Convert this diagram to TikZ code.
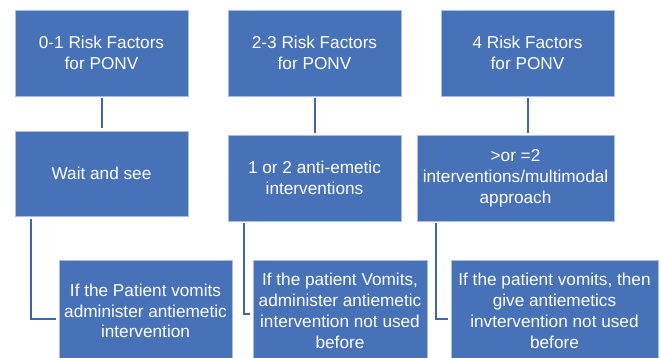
\documentclass[tikz,border=0pt]{standalone}
\usepackage{fontspec}
\setmainfont{Liberation Sans}
\definecolor{boxfill}{RGB}{71,114,183}
\definecolor{boxedge}{RGB}{170,190,225}
\definecolor{linkc}{RGB}{62,102,172}
\begin{document}
\begin{tikzpicture}[x=1pt,y=-1pt,
  box/.style={rectangle, fill=boxfill, draw=boxedge, line width=0.5pt,
    text=white, align=center, inner sep=0pt,
    font=\fontsize{17.2}{20.8}\selectfont},
  link/.style={draw=linkc, line width=2pt}]
\useasboundingbox (0,0) rectangle (661,358);
\clip (0,0) rectangle (661,358);
% top row
\node[box, minimum width=173pt, minimum height=86pt] (t1) at (101.5,53) {0-1 Risk Factors\\for PONV};
\node[box, minimum width=173pt, minimum height=86pt] (t2) at (314.5,53) {2-3 Risk Factors\\for PONV};
\node[box, minimum width=173pt, minimum height=86pt] (t3) at (527.5,53) {4 Risk Factors\\for PONV};
% middle row
\node[box, minimum width=173pt, minimum height=85pt] (m1) at (101.5,173.5) {Wait and see};
\node[box, minimum width=173pt, minimum height=86pt] (m2) at (314.5,178) {1 or 2 anti-emetic\\interventions};
\node[box, minimum width=197pt, minimum height=86pt] (m3) at (515.5,178) {>or =2\\interventions/multimodal\\approach};
% bottom row
\node[box, minimum width=173pt, minimum height=102pt] (b1) at (145.5,311) {If the Patient vomits\\administer antiemetic\\intervention};
\node[box, minimum width=174pt, minimum height=102pt] (b2) at (340,311) {If the patient Vomits,\\administer antiemetic\\intervention not used\\before};
\node[box, minimum width=207pt, minimum height=102pt] (b3) at (554.5,311) {If the patient vomits, then\\give antiemetics\\invtervention not used\\before};
% connectors top -> middle
\draw[link, shorten <=2pt, shorten >=3pt] (t1.south) -- (t1.south |- m1.north);
\draw[link, shorten <=2pt, shorten >=2pt] (t2.south) -- (t2.south |- m2.north);
\draw[link, shorten <=2pt, shorten >=2pt] (t3.south) -- (t3.south |- m3.north);
% connectors middle -> bottom
\coordinate (c1) at ([xshift=16pt]m1.south west);
\coordinate (c2) at ([xshift=16pt]m2.south west);
\coordinate (c3) at ([xshift=19pt]m3.south west);
\draw[link, shorten >=3pt] ([yshift=-3pt]c1) |- ([yshift=-8pt]b1.west);
\draw[link, shorten >=3pt] ([yshift=-2pt]c2) |- ([yshift=-3pt]b2.west);
\draw[link, shorten >=3pt] ([yshift=-2pt]c3) |- ([yshift=-8pt]b3.west);
\end{tikzpicture}
\end{document}
